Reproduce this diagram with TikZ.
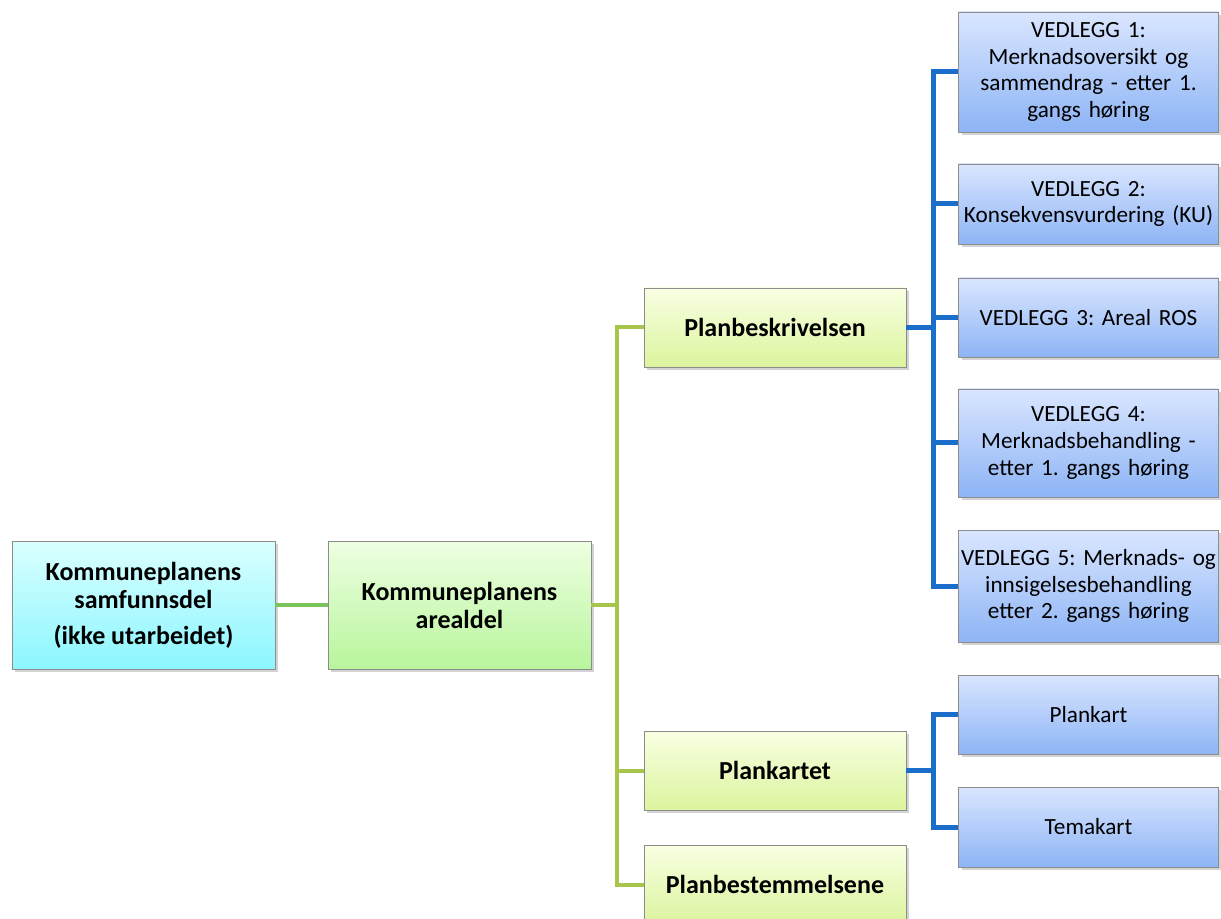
\documentclass[tikz,border=0pt]{standalone}
\usepackage{fontspec}
\setmainfont{Carlito}
\usetikzlibrary{shadows}
\frenchspacing

\definecolor{cyantop}{HTML}{DAFFFF}
\definecolor{cyanbot}{HTML}{8CF6FF}
\definecolor{areatop}{HTML}{EEFFE2}
\definecolor{areabot}{HTML}{B8F59C}
\definecolor{plantop}{HTML}{F8FFE2}
\definecolor{planbot}{HTML}{DCF49E}
\definecolor{vedtop}{HTML}{DAE6FF}
\definecolor{vedbot}{HTML}{8DB4F5}
\definecolor{boxline}{HTML}{8C8C8C}
\definecolor{linkgreen}{HTML}{7BC45C}
\definecolor{linklime}{HTML}{A6C54A}
\definecolor{linkblue}{HTML}{1A6DC8}

\tikzset{
  box/.style={draw=boxline, line width=0.4pt, align=center, inner sep=1pt,
    drop shadow={opacity=0.35, shadow xshift=1.5pt, shadow yshift=-1.5pt}},
  topbox/.style={box, minimum width=131.5pt, minimum height=64pt,
    font=\fontsize{13}{14}\selectfont\bfseries},
  planbox/.style={box, minimum width=131pt, minimum height=39.5pt,
    top color=plantop, bottom color=planbot,
    font=\fontsize{13}{14}\selectfont\bfseries},
  vedbox/.style={box, minimum width=130pt, text width=128pt,
    top color=vedtop, bottom color=vedbot,
    font=\fontsize{11.6}{13.3}\selectfont},
  limelink/.style={draw=linklime, line width=2pt},
  bluelink/.style={draw=linkblue, line width=2.5pt}
}

\begin{document}
\begin{tikzpicture}[x=0.5pt, y=-0.5pt]
\clip (0,0) rectangle (1221,919);

\node[topbox, top color=cyantop, bottom color=cyanbot] (samf) at (143.5,605)
  {Kommuneplanens\\samfunnsdel\\[4pt](ikke utarbeidet)};
\node[topbox, top color=areatop, bottom color=areabot] (areal) at (459.5,605)
  {Kommuneplanens\\arealdel};

\node[planbox] (besk) at (775,327.5) {Planbeskrivelsen};
\node[planbox] (kartet) at (775,770.5) {Plankartet};
\node[planbox] (best) at (775,884.5) {Planbestemmelsene};

\node[vedbox, minimum height=60pt] (ved1) at (1088.5,72)
  {VEDLEGG 1:\\Merknadsoversikt og\\sammendrag - etter 1.\\gangs høring};
\node[vedbox, minimum height=40pt] (ved2) at (1088.5,204)
  {VEDLEGG 2:\\Konsekvensvurdering (KU)};
\node[vedbox, minimum height=39.5pt] (ved3) at (1088.5,317.5)
  {VEDLEGG 3: Areal ROS};
\node[vedbox, minimum height=54pt] (ved4) at (1088.5,443)
  {VEDLEGG 4:\\Merknadsbehandling -\\etter 1. gangs høring};
\node[vedbox, minimum height=56pt] (ved5) at (1088.5,586)
  {VEDLEGG 5: Merknads- og\\innsigelsesbehandling\\etter 2. gangs høring};
\node[vedbox, minimum height=39.5pt] (kart) at (1088.5,714.5) {Plankart};
\node[vedbox, minimum height=40pt] (tema) at (1088.5,827) {Temakart};

\draw[draw=linkgreen, line width=2pt] (samf) -- (areal);
\foreach \n in {besk,kartet,best}
  \draw[limelink] (areal.east) -- ++(26,0) |- (\n.west);
\foreach \n in {ved1,ved2,ved3,ved4,ved5}
  \draw[bluelink] (besk.east) -- ++(27,0) |- (\n.west);
\foreach \n in {kart,tema}
  \draw[bluelink] (kartet.east) -- ++(27,0) |- (\n.west);
\end{tikzpicture}
\end{document}
